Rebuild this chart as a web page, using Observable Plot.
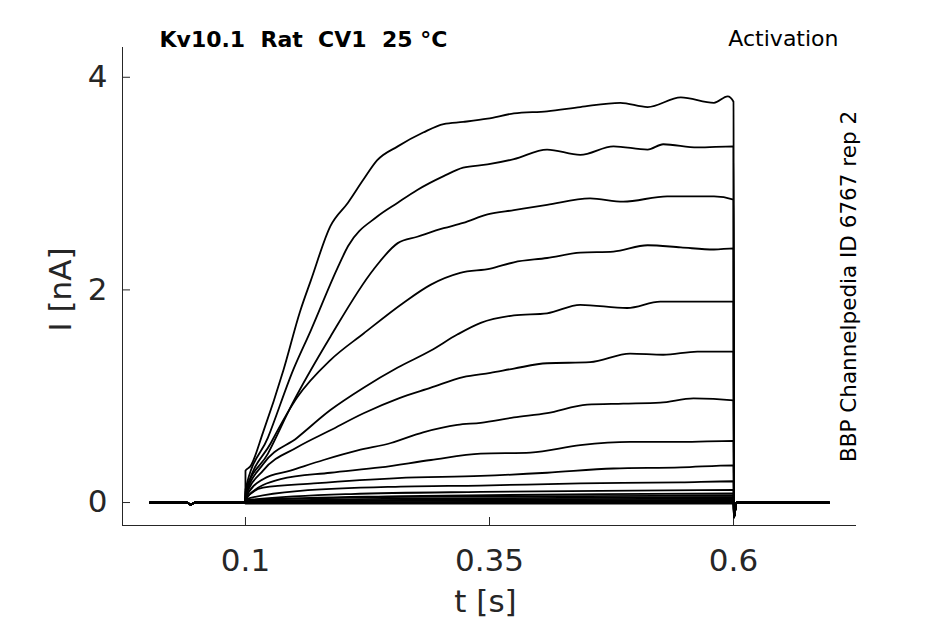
<!DOCTYPE html>
<html>
<head>
<meta charset="utf-8">
<script src="https://cdn.jsdelivr.net/npm/d3@7"></script>
<script src="https://cdn.jsdelivr.net/npm/@observablehq/plot@0.6"></script>
<style>
  html, body { margin: 0; padding: 0; background: #fff; }
  svg text { white-space: pre; }
</style>
</head>
<body>
<div id="chart"></div>
<script>
// ---- Data (t in s, I in nA) ----
const titleText = "Kv10.1  Rat  CV1  25 °C";
const protocolText = "Activation";
const sourceText = "BBP Channelpedia ID 6767 rep 2";
const xLabel = "t [s]";
const yLabel = "I [nA]";
const xTicks = [0.1, 0.35, 0.6];
const yTicks = [0, 2, 4];
const xDomain = [-0.026, 0.726];
const yDomain = [-0.216, 4.28];

// holding segment before the step (shared by all sweeps)
const preStep = [[0.002, 0], [0.040, 0], [0.044, -0.02], [0.048, 0], [0.0999, 0]];
// after the step: tail spike and return to baseline
const postStep = [[0.6005, -0.14], [0.603, 0], [0.698, 0]];

// step currents, one array per sweep, from largest to smallest
const sweep1 = [[0.100,0.30],[0.105,0.34],[0.118,0.66],[0.139,1.25],[0.156,1.80],[0.167,2.09],[0.187,2.60],[0.205,2.82],[0.221,3.04],[0.235,3.22],[0.256,3.35],[0.282,3.48],[0.303,3.56],[0.323,3.58],[0.348,3.61],[0.375,3.66],[0.409,3.68],[0.443,3.72],[0.484,3.76],[0.512,3.72],[0.546,3.81],[0.580,3.76],[0.594,3.82],[0.600,3.77]];
const sweep2 = [[0.100,0.12],[0.123,0.61],[0.149,1.25],[0.167,1.62],[0.194,2.20],[0.205,2.41],[0.235,2.69],[0.256,2.82],[0.276,2.94],[0.303,3.07],[0.323,3.15],[0.348,3.18],[0.375,3.23],[0.409,3.32],[0.443,3.27],[0.477,3.35],[0.512,3.32],[0.528,3.37],[0.563,3.34],[0.600,3.35]];
const sweep3 = [[0.100,0.10],[0.123,0.46],[0.148,0.93],[0.187,1.56],[0.231,2.19],[0.256,2.44],[0.276,2.50],[0.303,2.58],[0.323,2.63],[0.348,2.71],[0.375,2.75],[0.409,2.80],[0.453,2.86],[0.487,2.83],[0.532,2.88],[0.580,2.88],[0.600,2.85]];
const sweep4 = [[0.100,0.08],[0.126,0.56],[0.153,0.99],[0.187,1.34],[0.221,1.59],[0.262,1.88],[0.290,2.05],[0.320,2.16],[0.351,2.20],[0.375,2.26],[0.409,2.30],[0.443,2.35],[0.477,2.36],[0.512,2.42],[0.546,2.40],[0.580,2.38],[0.600,2.39]];
const sweep5 = [[0.100,0.06],[0.118,0.36],[0.153,0.61],[0.187,0.87],[0.221,1.08],[0.256,1.27],[0.290,1.43],[0.317,1.58],[0.341,1.69],[0.375,1.76],[0.409,1.78],[0.443,1.86],[0.491,1.83],[0.525,1.89],[0.563,1.89],[0.600,1.89]];
const sweep6 = [[0.100,0.05],[0.118,0.30],[0.153,0.52],[0.187,0.68],[0.221,0.84],[0.257,0.98],[0.290,1.08],[0.323,1.18],[0.351,1.22],[0.375,1.26],[0.409,1.31],[0.453,1.32],[0.494,1.40],[0.528,1.39],[0.563,1.42],[0.600,1.42]];
const sweep7 = [[0.100,0.04],[0.118,0.22],[0.146,0.30],[0.180,0.40],[0.215,0.49],[0.249,0.56],[0.282,0.66],[0.317,0.73],[0.341,0.75],[0.375,0.80],[0.409,0.84],[0.450,0.92],[0.487,0.93],[0.525,0.94],[0.559,0.98],[0.600,0.96]];
const sweep8 = [[0.100,0.04],[0.136,0.22],[0.187,0.28],[0.238,0.33],[0.290,0.40],[0.341,0.46],[0.392,0.47],[0.443,0.54],[0.494,0.57],[0.546,0.57],[0.600,0.58]];
const sweep9 = [[0.100,0.03],[0.118,0.14],[0.170,0.18],[0.256,0.23],[0.341,0.25],[0.409,0.28],[0.477,0.32],[0.546,0.33],[0.600,0.35]];
const sweep10 = [[0.100,0.03],[0.156,0.11],[0.259,0.15],[0.341,0.16],[0.443,0.18],[0.546,0.19],[0.600,0.20]];
const sweep11 = [[0.100,0.02],[0.208,0.08],[0.341,0.10],[0.464,0.11],[0.600,0.12]];
const sweep12 = [[0.100,0.02],[0.259,0.06],[0.464,0.08],[0.600,0.085]];
const sweep13 = [[0.100,0.02],[0.300,0.055],[0.600,0.065]];
const sweep14 = [[0.100,0.01],[0.300,0.04],[0.600,0.05]];
const sweep15 = [[0.100,0.01],[0.350,0.03],[0.600,0.035]];
const sweep16 = [[0.100,0.01],[0.400,0.02],[0.600,0.025]];
const sweep17 = [[0.100,0.00],[0.600,0.012]];
const sweep18 = [[0.100,0.00],[0.600,0.00]];
const sweep19 = [[0.100,-0.01],[0.600,-0.01]];

const sweeps = [sweep1, sweep2, sweep3, sweep4, sweep5, sweep6, sweep7, sweep8, sweep9, sweep10,
                sweep11, sweep12, sweep13, sweep14, sweep15, sweep16, sweep17, sweep18, sweep19];

// build a tidy table for Plot
const rows = [];
sweeps.forEach((sw, k) => {
  [...preStep, ...sw, ...postStep].forEach(([t, I]) => rows.push({sweep: k, t, I}));
});

const W = 945, H = 624;
const mL = 122, mR = 89, mT = 47, mB = 99;
const frameW = W - mL - mR, frameH = H - mT - mB;
const axisColor = "#262626";
const tickLen = 8;

const chart = Plot.plot({
  width: W,
  height: H,
  marginLeft: mL,
  marginRight: mR,
  marginTop: mT,
  marginBottom: mB,
  style: {fontFamily: "DejaVu Sans", background: "#fff", color: axisColor, overflow: "visible"},
  x: {domain: xDomain, axis: null},
  y: {domain: yDomain, axis: null},
  marks: [
    // axis lines (box off: left and bottom only)
    Plot.ruleX([xDomain[0]], {stroke: axisColor, strokeWidth: 1}),
    Plot.ruleY([yDomain[0]], {stroke: axisColor, strokeWidth: 1}),
    // inward ticks
    Plot.tickX(xTicks, {x: d => d, insetTop: frameH - tickLen, stroke: axisColor, strokeWidth: 1}),
    Plot.tickY(yTicks, {y: d => d, insetRight: frameW - tickLen, stroke: axisColor, strokeWidth: 1}),
    // current traces
    Plot.line(rows, {x: "t", y: "I", z: "sweep", curve: "monotone-x", stroke: "#000", strokeWidth: 1.8, strokeLinejoin: "round"}),
    // tick labels
    Plot.text(xTicks, {x: d => d, frameAnchor: "bottom", dy: 36, lineAnchor: "middle", text: d => String(d), fontSize: 31, fill: axisColor}),
    Plot.text(yTicks, {y: d => d, frameAnchor: "left", dx: -15, textAnchor: "end", text: d => String(d), fontSize: 31, fill: axisColor}),
    // axis labels
    Plot.text([xLabel], {frameAnchor: "bottom", dy: 77, dx: -4, lineAnchor: "middle", text: d => d, fontSize: 31, fill: axisColor}),
    Plot.text([yLabel], {frameAnchor: "left", dx: -61, dy: 3, rotate: -90, textAnchor: "middle", lineAnchor: "middle", text: d => d, fontSize: 31, fill: axisColor}),
    // titles
    Plot.text([titleText], {frameAnchor: "top-left", dx: 37, dy: -8, textAnchor: "start", lineAnchor: "middle", text: d => d, fontSize: 22, fontWeight: "bold", fill: "#000"}),
    Plot.text([protocolText], {frameAnchor: "top-right", dx: -18, dy: -9, textAnchor: "end", lineAnchor: "middle", text: d => d, fontSize: 22, fill: "#000"}),
    Plot.text([sourceText], {frameAnchor: "right", dx: -7, rotate: -90, textAnchor: "middle", lineAnchor: "middle", text: d => d, fontSize: 21.5, fill: "#000"})
  ]
});

document.getElementById("chart").appendChild(chart);
</script>
</body>
</html>
